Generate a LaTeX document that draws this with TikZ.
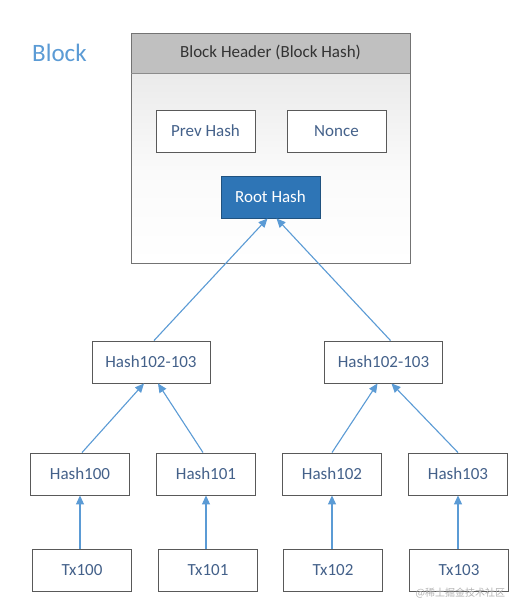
\documentclass[tikz,border=0pt]{standalone}
\usepackage{fontspec}
\setmainfont{Carlito}
\newfontfamily\cjk{Noto Sans CJK SC}
\usetikzlibrary{arrows.meta}
\definecolor{arrowblue}{HTML}{5B9BD5}
\definecolor{txtblue}{HTML}{44618A}
\definecolor{rootblue}{HTML}{2E75B6}
\definecolor{boxline}{HTML}{595959}
\definecolor{hdrgray}{HTML}{C0C0C0}
\tikzset{
  hbox/.style={draw=boxline, line width=0.9pt, fill=white, minimum width=99pt, minimum height=42pt, inner sep=0pt, text=txtblue, font=\fontsize{17}{20}\selectfont},
  wbox/.style={hbox, minimum width=118pt},
  conn/.style={draw=arrowblue, line width=1.1pt, -{Triangle[width=8pt,length=9pt]}},
}
\begin{document}
\begin{tikzpicture}[x=1pt,y=-1pt]
\useasboundingbox (0,0) rectangle (529,615);
\fill[white] (0,0) rectangle (529,615);
% title
\node[anchor=west, inner sep=0pt, text=arrowblue, font=\fontsize{25}{30}\selectfont] (title) at (32,53) {Block};
% block outer
\shade[top color=black!8, bottom color=white, middle color=black!2] (131,73) rectangle (410,263);
\fill[hdrgray] (131,33) rectangle (410,73);
\draw[draw=black!55, line width=0.9pt] (131,33) rectangle (410,263);
\draw[draw=black!45, line width=0.9pt] (131,73) -- (410,73);
\node[font=\fontsize{17}{20}\selectfont, text=black!80] (hdr) at (270.5,52) {Block Header (Block Hash)};
\node[hbox] (prev) at (205.5,131) {Prev Hash};
\node[hbox] (nonce) at (336.5,131) {Nonce};
\node[hbox, fill=rootblue, draw=rootblue!70!black, text=white] (root) at (270.5,197) {Root Hash};
% level 2
\node[wbox] (hl) at (151,362) {Hash102-103};
\node[wbox] (hr) at (383.5,362) {Hash102-103};
% level 1
\node[hbox] (h100) at (80,474) {Hash100};
\node[hbox] (h101) at (206,474) {Hash101};
\node[hbox] (h102) at (332,474) {Hash102};
\node[hbox] (h103) at (458,474) {Hash103};
% tx
\node[hbox] (t100) at (82,570.5) {Tx100};
\node[hbox] (t101) at (208,570.5) {Tx101};
\node[hbox] (t102) at (333,570.5) {Tx102};
\node[hbox] (t103) at (459,570.5) {Tx103};
% connectors
\draw[conn] (t100.north -| h100.north) -- (h100.south);
\draw[conn] (t101.north -| h101.north) -- (h101.south);
\draw[conn] (t102.north -| h102.north) -- (h102.south);
\draw[conn] (t103.north -| h103.north) -- (h103.south);
\draw[conn] ([xshift=2pt]h100.north) -- ([xshift=-7pt]hl.south);
\draw[conn] ([xshift=-3pt]h101.north) -- ([xshift=7pt]hl.south);
\draw[conn] (h102.north) -- ([xshift=-6pt]hr.south);
\draw[conn] (h103.north) -- ([xshift=8pt]hr.south);
\draw[conn] ([xshift=3pt]hl.north) -- ([xshift=-3pt]root.south);
\draw[conn] ([xshift=7pt]hr.north) -- ([xshift=6pt]root.south);
% watermark
\node[anchor=west, text=black!30, font=\cjk\fontsize{10}{12}\selectfont] (wm) at (412,593) {@稀土掘金技术社区};
\end{tikzpicture}
\end{document}
